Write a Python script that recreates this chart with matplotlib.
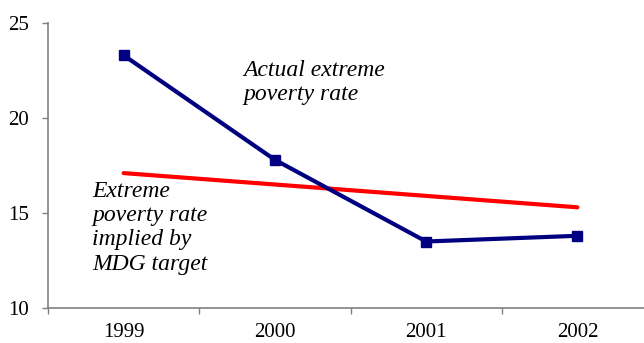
import matplotlib
matplotlib.use("Agg")
import matplotlib.pyplot as plt
from matplotlib.ticker import FixedLocator

years = ["1999", "2000", "2001", "2002"]
actual_rate = [23.3, 17.8, 13.5, 13.8]
mdg_implied_rate = [17.1, 16.5, 15.9, 15.3]
y_ticks = [10, 15, 20, 25]

plt.rcParams["font.family"] = ["Liberation Serif", "DejaVu Serif"]

fig = plt.figure(figsize=(6.44, 3.43), dpi=100)
ax = fig.add_axes([48 / 644, 1 - 308 / 343, (653 - 48) / 644, (308 - 23) / 343])

x = list(range(len(years)))
ax.plot(x, mdg_implied_rate, color="#ff0000", lw=3.0, solid_capstyle="round", zorder=2)
ax.plot(x, actual_rate, color="#000080", lw=3.0, marker="s", markersize=7.5,
        solid_joinstyle="miter", zorder=3)

ax.set_xlim(-0.5, len(years) - 0.5)
ax.set_ylim(10, 25)
ax.set_yticks(y_ticks)
ax.set_yticklabels([str(v) for v in y_ticks], fontsize=15)
ax.set_xticks(x)
ax.set_xticklabels(years, fontsize=15)
ax.tick_params(axis="x", which="major", length=0, pad=11)
ax.xaxis.set_minor_locator(FixedLocator([i - 0.5 for i in range(len(years) + 1)]))
ax.tick_params(axis="x", which="minor", length=4, width=1, color="#808080", direction="out")
ax.tick_params(axis="y", length=4, width=1, color="#808080", direction="out", pad=10)

for side in ("top", "right"):
    ax.spines[side].set_visible(False)
for side in ("left", "bottom"):
    ax.spines[side].set_color("#808080")
    ax.spines[side].set_linewidth(1.2)

fig.text(243 / 644, 1 - 60 / 343, "Actual extreme\npoverty rate", fontsize=17,
         style="italic", va="top", ha="left", linespacing=1.2)
fig.text(92 / 644, 1 - 181 / 343, "Extreme\npoverty rate\nimplied by\nMDG target",
         fontsize=17, style="italic", va="top", ha="left", linespacing=1.2)

fig.savefig("out.png", dpi=100)
